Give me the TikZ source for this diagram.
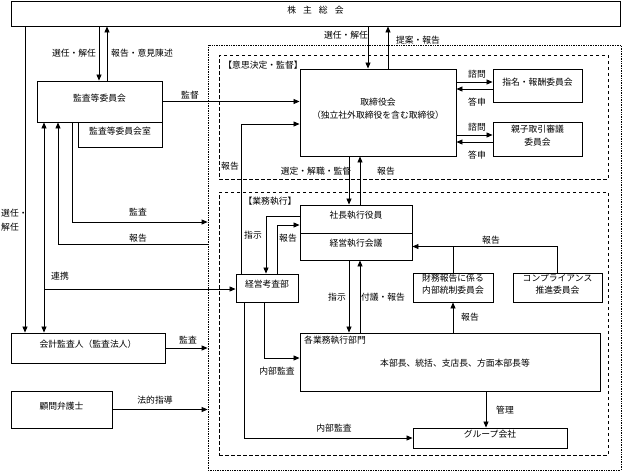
\documentclass[tikz,border=0pt]{standalone}
\usepackage{fontspec}
\setmainfont{Noto Sans CJK JP}
\usetikzlibrary{arrows.meta,fit}
\newcommand\myfs{\fontsize{8.8}{13}\selectfont}
\newcommand\myfst{\fontsize{8.8}{12}\selectfont}
\tikzset{
 box/.style={draw, line width=0.9pt, fill=white, inner sep=0pt, align=center, font=\myfs},
 lab/.style={font=\myfs, inner sep=0pt},
 arr/.style={line width=0.8pt, -{Triangle[length=6pt,width=5pt]}},
 ln/.style={line width=0.8pt},
 dbl/.style={line width=0.8pt, {Triangle[length=6pt,width=5pt]}-{Triangle[length=6pt,width=5pt]}},
 dashbox/.style={draw, line width=0.8pt, dash pattern=on 3.5pt off 2.5pt, inner sep=0pt},
 dotbox/.style={draw, line width=0.8pt, dash pattern=on 0.8pt off 0.9pt, inner sep=0pt},
}
\begin{document}
\begin{tikzpicture}[x=1pt,y=-1pt]
\useasboundingbox[fill=white] (0,0) rectangle (623,472);
% frames
\node[dotbox, fit={(208,45) (621,470)}] (outer) {};
\node[dashbox, fit={(219,55) (608,179)}] (dec) {};
\node[dashbox, fit={(219,192) (608,455)}] (exe) {};
% boxes
\node[box, fit={(11,1) (620,26)}] (soukai) {株\hspace{7pt}主\hspace{7pt}総\hspace{7pt}会};
\node[box, fit={(37,81) (162,122)}] (kansa) {監査等委員会};
\node[box, fit={(78,122) (162,147)}] (shitsu) {監査等委員会室};
\node[box, fit={(11,333) (165,363)}] (kaikei) {会計監査人（監査法人）};
\node[box, fit={(11,391) (112,428)}] (komon) {顧問弁護士};
\node[box, fit={(300,69) (456,156)}] (tori) {取締役会\\（独立社外取締役を含む取締役）};
\node[box, fit={(493,69) (582,102)}] (shimei) {指名・報酬委員会};
\node[box, fit={(493,122) (582,156)}] (oyako) {親子取引審議\\委員会};
\node[box, fit={(300,205) (412,233)}] (shacho) {社長執行役員};
\node[box, fit={(300,233) (412,260)}] (keiei) {経営執行会議};
\node[box, fit={(236,274) (298,302)}] (kousa) {経営考査部};
\node[box, font=\myfst, fit={(413,273) (493,302)}] (zaimu) {財務報告に係る\\内部統制委員会};
\node[box, font=\myfst, fit={(513,273) (602,302)}] (comp) {コンプライアンス\\推進委員会};
\node[box, fit={(300,333) (600,391)}] (gyomu) {};
\node[lab, anchor=north west] (gyomuT) at (304,336) {各業務執行部門};
\node[lab] (gyomuB) at (455,363) {本部長、統括、支店長、方面本部長等};
\node[box, fit={(413,428) (567,448)}] (group) {グループ会社};
% labels
\node[lab] (t1) at (74,53) {選任・解任};
\node[lab] (t2) at (142,53) {報告・意見陳述};
\node[lab] (t3) at (190,95) {監督};
\node[lab] (t4) at (346,35) {選任・解任};
\node[lab] (t5) at (418,40) {提案・報告};
\node[lab] (t6) at (263,65) {【意思決定・監督】};
\node[lab] (t7) at (477,74) {諮問};
\node[lab] (t8) at (477,102) {答申};
\node[lab] (t9) at (477,127) {諮問};
\node[lab] (t10) at (477,155) {答申};
\node[lab] (t11) at (230,166) {報告};
\node[lab] (t12) at (316,171) {選定・解職・監督};
\node[lab] (t13) at (386,171) {報告};
\node[lab] (t14) at (270,201) {【業務執行】};
\node[lab] (t15) at (138,212) {監査};
\node[lab] (t16) at (138,238) {報告};
\node[lab, align=left, anchor=west, font=\fontsize{8.8}{14}\selectfont] (t17) at (1,220) {選任・\\解任};
\node[lab] (t18) at (60,276) {連携};
\node[lab] (t19) at (253,235) {指示};
\node[lab] (t20) at (288,238) {報告};
\node[lab] (t21) at (491,240) {報告};
\node[lab] (t22) at (337,297) {指示};
\node[lab] (t23) at (383,297) {付議・報告};
\node[lab] (t24) at (188,340) {監査};
\node[lab] (t25) at (470,317) {報告};
\node[lab] (t26) at (277,371) {内部監査};
\node[lab] (t27) at (155,400) {法的指導};
\node[lab] (t28) at (505,410) {管理};
\node[lab] (t29) at (334,428) {内部監査};
% connectors
\draw[arr] (soukai.south -| 99,0) -- (kansa.north -| 99,0);
\draw[arr] (kansa.north -| 107,0) -- (soukai.south -| 107,0);
\draw[arr] (soukai.south -| 25,0) -- (kaikei.north -| 25,0);
\draw[arr] (soukai.south -| 368,0) -- (tori.north -| 368,0);
\draw[arr] (tori.north -| 388,0) -- (soukai.south -| 388,0);
\draw[arr] (kansa.east) -- (tori.west |- kansa.east);
\draw[arr] (tori.east |- 0,82) -- (shimei.west |- 0,82);
\draw[arr] (shimei.west |- 0,89) -- (tori.east |- 0,89);
\draw[arr] (tori.east |- 0,135) -- (oyako.west |- 0,135);
\draw[arr] (oyako.west |- 0,142) -- (tori.east |- 0,142);
\draw[arr] (tori.south -| 349,0) -- (shacho.north -| 349,0);
\draw[arr] (shacho.north -| 360,0) -- (tori.south -| 360,0);
\draw[arr] (kousa.north -| 241,0) |- (tori.west |- 0,124);
\draw[arr] (shacho.west |- 0,216) -| (kousa.north -| 266,0);
\draw[arr] (kousa.north -| 277,0) |- (shacho.west |- 0,225);
\draw[arr] (kansa.south -| 72,0) |- (outer.west |- 0,222);
\draw[arr] (outer.west |- 0,244) -| (kansa.south -| 58,0);
\draw[dbl] (kansa.south -| 44,0) -- (kaikei.north -| 44,0);
\coordinate (renkei) at (44,289);
\draw[arr] (renkei) -- (kousa.west |- renkei);
\draw[arr] (kaikei.east) -- (outer.west |- kaikei.east);
\draw[arr] (komon.east) -- (outer.west |- komon.east);
\draw[arr] (keiei.south -| 349,0) -- (gyomu.north -| 349,0);
\draw[arr] (gyomu.north -| 360,0) -- (keiei.south -| 360,0);
\draw[ln] (comp.north) |- (zaimu.north |- keiei.east);
\draw[arr] (zaimu.north) |- (keiei.east);
\draw[arr] (gyomu.north -| zaimu.south) -- (zaimu.south);
\draw[arr] (gyomu.south -| 486,0) -- (group.north -| 486,0);
\draw[arr] (kousa.south -| 264,0) |- (gyomu.west |- 0,358);
\draw[arr] (kousa.south -| 244,0) |- (group.west);
\end{tikzpicture}
\end{document}
